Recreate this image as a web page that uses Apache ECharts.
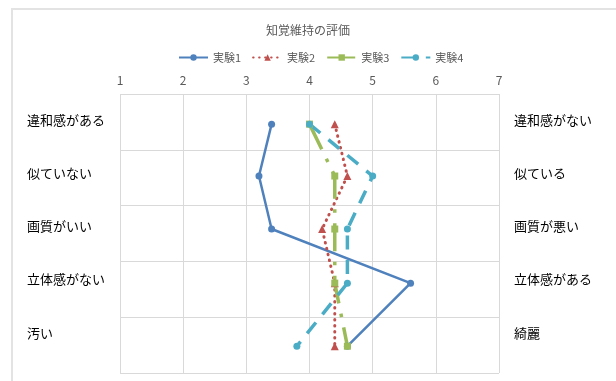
<!DOCTYPE html>
<html>
<head>
<meta charset="utf-8">
<script src="https://cdn.jsdelivr.net/npm/echarts@6/dist/echarts.min.js"></script>
<style>html,body{margin:0;padding:0;background:#fff;}#c{width:616px;height:381px;}</style>
</head>
<body>
<div id="c"></div>
<script>
var title = '知覚維持の評価';
var seriesNames = ['実験1', '実験2', '実験3', '実験4'];
var leftLabels = ['違和感がある', '似ていない', '画質がいい', '立体感がない', '汚い'];
var rightLabels = ['違和感がない', '似ている', '画質が悪い', '立体感がある', '綺麗'];
var xTicks = [1, 2, 3, 4, 5, 6, 7];
// vertical position of each row (0 = top of plot, 5 = bottom)
var rowPos = [0.54, 1.47, 2.42, 3.39, 4.52];
var exp1 = [3.4, 3.2, 3.4, 5.6, 4.6];
var exp2 = [4.4, 4.6, 4.2, 4.4, 4.4];
var exp3 = [4.0, 4.4, 4.4, 4.4, 4.6];
var exp4 = [4.0, 5.0, 4.6, 4.6, 3.8];

var chart = echarts.init(document.getElementById('c'));
function pts(vals) { return vals.map(function (v, i) { return [v, rowPos[i]]; }); }
var font = '"Noto Sans CJK JP", "Noto Sans", sans-serif';
var txt = '#595959';
var labelY = [122.7, 176, 229, 281.7, 335.7];
var graphics = [];
leftLabels.forEach(function (t, i) {
  graphics.push({ type: 'text', left: 27, top: labelY[i] - 9, style: { text: t, fill: '#000', font: '13px ' + font } });
});
rightLabels.forEach(function (t, i) {
  graphics.push({ type: 'text', left: 514, top: labelY[i] - 9, style: { text: t, fill: '#000', font: '13px ' + font } });
});
graphics.push({ type: 'polyline', shape: { points: [[12, 381], [12, 9], [616, 9]] }, style: { stroke: '#e3e3e3', lineWidth: 2, fill: null } });

chart.setOption({
  animation: false,
  backgroundColor: '#fff',
  textStyle: { fontFamily: font },
  title: { text: title, left: 'center', top: 19, textStyle: { fontSize: 12, fontWeight: 'normal', color: txt, fontFamily: font } },
  legend: {
    top: 47, left: 173, itemWidth: 29, itemHeight: 8, itemGap: 11,
    textStyle: { fontSize: 11, color: txt, fontFamily: font },
    data: seriesNames
  },
  grid: { left: 120, right: 117, top: 94, bottom: 8, containLabel: false },
  xAxis: {
    type: 'value', position: 'top', min: xTicks[0], max: xTicks[xTicks.length - 1], interval: 1,
    axisLine: { show: false }, axisTick: { show: false },
    axisLabel: { color: txt, fontSize: 12, margin: 8, fontFamily: font },
    splitLine: { show: true, lineStyle: { color: '#d9d9d9', width: 1 } }
  },
  yAxis: {
    type: 'value', min: 0, max: 5, interval: 1, inverse: true,
    axisLine: { show: false }, axisTick: { show: false }, axisLabel: { show: false },
    splitLine: { show: true, lineStyle: { color: '#d9d9d9', width: 1 } }
  },
  graphic: graphics,
  series: [
    { name: seriesNames[0], type: 'line', data: pts(exp1), symbol: 'circle', symbolSize: 7,
      itemStyle: { color: '#4F81BD' }, lineStyle: { color: '#4F81BD', width: 2.5 } },
    { name: seriesNames[1], type: 'line', data: pts(exp2), symbol: 'triangle', symbolSize: 8,
      itemStyle: { color: '#C0504D' }, lineStyle: { color: '#C0504D', width: 3, type: [0.5, 5.5], cap: 'round' } },
    { name: seriesNames[2], type: 'line', data: pts(exp3), symbol: 'rect', symbolSize: 7,
      itemStyle: { color: '#9BBB59' }, lineStyle: { color: '#9BBB59', width: 3.5, type: [28, 10.5, 3.5, 10.5], cap: 'butt' } },
    { name: seriesNames[3], type: 'line', data: pts(exp4), symbol: 'circle', symbolSize: 7,
      itemStyle: { color: '#4BACC6' }, lineStyle: { color: '#4BACC6', width: 3.5, type: [14, 10.5], cap: 'butt' } }
  ]
});
</script>
</body>
</html>
